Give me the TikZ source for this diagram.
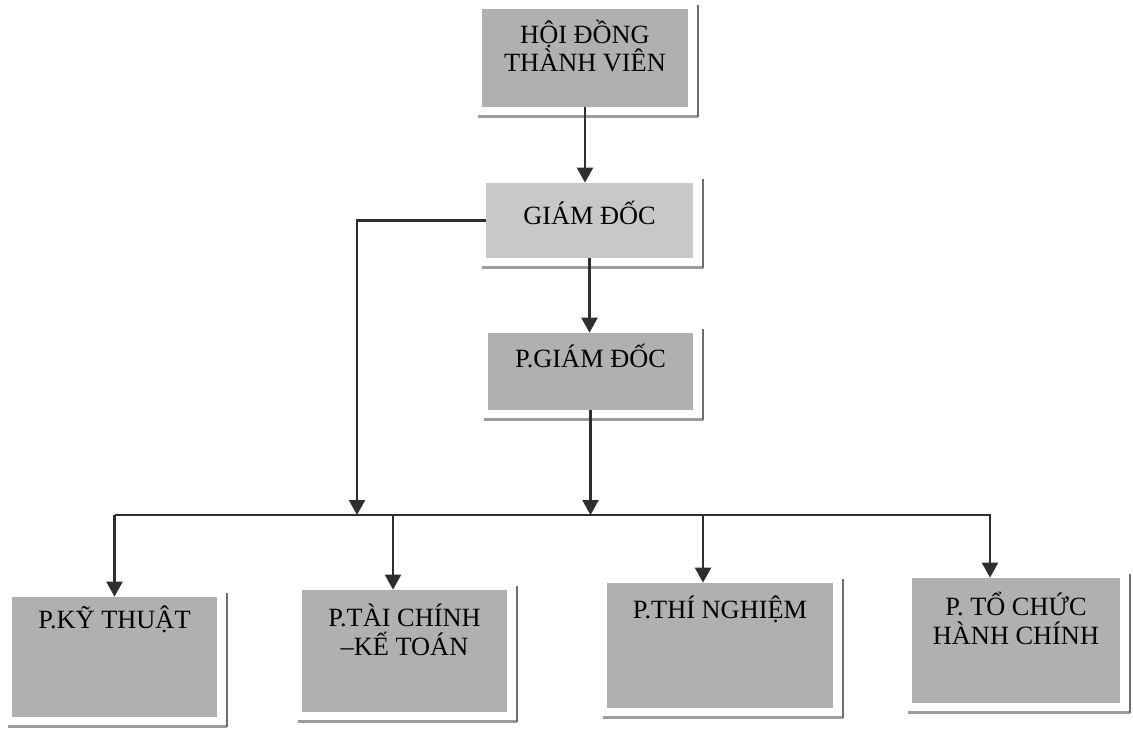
\documentclass[tikz,border=0pt]{standalone}
\usepackage{fontspec}
\setmainfont{Liberation Serif}
\usetikzlibrary{arrows.meta}
\definecolor{boxgray}{HTML}{B0B0B0}
\definecolor{boxlight}{HTML}{C8C8C8}
\definecolor{linedark}{HTML}{2E2E2E}
\definecolor{rimdark}{HTML}{6E6E6E}
\definecolor{rimlight}{HTML}{9C9C9C}
\tikzset{
  unit/.style={fill=boxgray, inner sep=0pt, align=center, font=\fontsize{15}{16}\selectfont},
  arr/.style={draw=linedark, line width=1.3pt, -{Triangle[width=0.32cm,length=0.30cm]}},
  rimr/.style={draw=rimdark, line width=1pt},
  rimb/.style={draw=rimlight, line width=1.8pt},
}
\begin{document}
\begin{tikzpicture}[x=0.02cm,y=-0.02cm]
\useasboundingbox (0,0) rectangle (1133,729);
\path node[unit, minimum width=4.12cm, text height=1.26cm, text depth=0.70cm] (hdtv) at (585,58) {HỘI ĐỒNG\\THÀNH VIÊN}
node[unit, fill=boxlight, minimum width=4.14cm, text height=0.84cm, text depth=0.66cm] (gd) at (589.5,220.5) {GIÁM ĐỐC}
node[unit, minimum width=4.10cm, text height=0.70cm, text depth=0.84cm] (pgd) at (590.5,371.5) {P.GIÁM ĐỐC}
node[unit, minimum width=4.10cm, text height=0.62cm, text depth=1.78cm] (kt) at (114.5,657) {P.KỸ THUẬT}
node[unit, minimum width=4.10cm, text height=1.30cm, text depth=1.14cm] (tc) at (404.5,651) {P.TÀI CHÍNH\\[0.5pt]–KẾ TOÁN}
node[unit, minimum width=4.52cm, text height=0.70cm, text depth=1.80cm] (tn) at (720,645.5) {P.THÍ NGHIỆM}
node[unit, minimum width=4.16cm, text height=1.32cm, text depth=1.18cm] (tchc) at (1016,640.5) {P. TỔ CHỨC\\[0.5pt]HÀNH CHÍNH}
;
% rims right and below each box
\foreach \n in {hdtv,gd,pgd,kt,tc,tn,tchc}{
  \draw[rimb] ([shift={(-4,9)}]\n.south west) -- ([shift={(10,9)}]\n.south east);
  \draw[rimr] ([shift={(10,10)}]\n.south east) -- ([shift={(10,-4)}]\n.north east);
}
\coordinate (bus) at (114.5,515);
\coordinate (jl) at (357,515);
\draw[arr] (hdtv.south) -- (hdtv.south |- gd.north);
\draw[arr] (gd.south) -- (gd.south |- pgd.north);
\draw[arr] (gd.west) -| (jl);
\draw[arr] (pgd.south) -- (pgd.south |- bus);
\draw[arr] (bus) -- (kt.north);
\draw[arr] (bus) -| ([shift={(-11.5,0)}]tc.north);
\draw[arr] (bus) -| ([shift={(-17,0)}]tn.north);
\draw[arr] (bus) -| ([shift={(-26,0)}]tchc.north);
\end{tikzpicture}
\end{document}
